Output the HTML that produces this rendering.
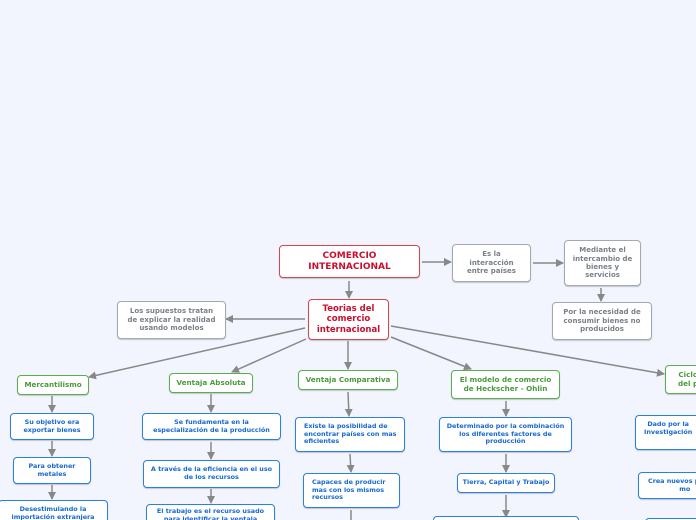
<!DOCTYPE html>
<html><head><meta charset="utf-8"><style>
html,body{margin:0;padding:0;width:696px;height:520px;overflow:hidden}
body{background:#f2f5fe;font-family:"DejaVu Sans","Liberation Sans",sans-serif;font-weight:bold}
#w{position:relative;width:696px;height:520px;overflow:hidden}
.b{position:absolute;box-sizing:border-box;background:#fff;border-radius:4px;display:flex;align-items:center;justify-content:center;text-align:center;line-height:1.2;box-shadow:0 1px 1px rgba(0,0,0,.2)}
.r{border:1.5px solid #d9454f;color:#c8102e;font-size:8.5px}
.g{border:1.5px solid #a4a9b0;color:#7b8089;font-size:7px}
.gr{border:1.5px solid #5aae4e;color:#4a9a3e;font-size:7.2px}
.bl{border:1.5px solid #2a7fe0;color:#1668cf;font-size:6.4px}
.l{text-align:left;justify-content:flex-start;padding-left:8px}
svg{position:absolute;left:0;top:0}
</style></head><body><div id="w">
<svg width="696" height="520"><defs><marker id="a" markerWidth="8" markerHeight="8" refX="7" refY="4" orient="auto" markerUnits="userSpaceOnUse"><path d="M0,0L8,4L0,8z" fill="#888"/></marker></defs>
<g stroke="#888" stroke-width="1.5" fill="none" marker-end="url(#a)">
<line x1="422" y1="262" x2="451" y2="262"/>
<line x1="533" y1="263" x2="563" y2="263"/>
<line x1="601" y1="288" x2="601" y2="301"/>
<line x1="349" y1="281" x2="349" y2="298"/>
<line x1="305" y1="319" x2="226" y2="319"/>
<line x1="305" y1="328" x2="89" y2="377"/>
<line x1="306" y1="339" x2="232" y2="372"/>
<line x1="348" y1="341" x2="348" y2="369"/>
<line x1="391" y1="337" x2="471" y2="369"/>
<line x1="391" y1="326" x2="664" y2="374"/>
<line x1="52" y1="396" x2="52" y2="412"/>
<line x1="52" y1="441" x2="52" y2="456"/>
<line x1="52" y1="485" x2="52" y2="499"/>
<line x1="211" y1="394" x2="211" y2="412"/>
<line x1="211" y1="442" x2="211" y2="459"/>
<line x1="211" y1="489" x2="211" y2="503"/>
<line x1="348" y1="392" x2="349" y2="416"/>
<line x1="350" y1="454" x2="351" y2="472"/>
<line x1="351" y1="510" x2="351" y2="530"/>
<line x1="506" y1="401" x2="506" y2="416"/>
<line x1="506" y1="454" x2="506" y2="472"/>
<line x1="506" y1="495" x2="506" y2="517"/>
</g></svg>
<div class="b r" style="left:279px;top:245px;width:141px;height:33px;font-size:9px">COMERCIO<br>INTERNACIONAL</div>
<div class="b g" style="left:452px;top:244px;width:79px;height:38px">Es la<br>interacción<br>entre países</div>
<div class="b g" style="left:564px;top:240px;width:77px;height:46px">Mediante el<br>intercambio de<br>bienes y<br>servicios</div>
<div class="b g" style="left:552px;top:302px;width:100px;height:38px">Por la necesidad de<br>consumir bienes no<br>producidos</div>
<div class="b r" style="left:308px;top:299px;width:81px;height:41px">Teorias del<br>comercio<br>internacional</div>
<div class="b g" style="left:117px;top:301px;width:109px;height:38px">Los supuestos tratan<br>de explicar la realidad<br>usando modelos</div>
<div class="b gr" style="left:17px;top:375px;width:72px;height:20px">Mercantilismo</div>
<div class="b gr" style="left:169px;top:373px;width:84px;height:20px">Ventaja Absoluta</div>
<div class="b gr" style="left:298px;top:370px;width:100px;height:20px">Ventaja Comparativa</div>
<div class="b gr" style="left:451px;top:370px;width:109px;height:29px">El modelo de comercio<br>de Heckscher - Ohlin</div>
<div class="b gr" style="left:665px;top:365px;width:50px;height:29px;justify-content:flex-start;padding-left:12px">Ciclo<br>del p</div>
<div class="b bl" style="left:10px;top:413px;width:84px;height:27px">Su objetivo era<br>exportar bienes</div>
<div class="b bl" style="left:13px;top:457px;width:78px;height:27px">Para obtener<br>metales</div>
<div class="b bl" style="left:-2px;top:500px;width:110px;height:30px;align-items:flex-start;padding-top:5px">Desestimulando la<br>importación extranjera</div>
<div class="b bl" style="left:142px;top:413px;width:139px;height:27px">Se fundamenta en la<br>especialización de la producción</div>
<div class="b bl" style="left:143px;top:460px;width:137px;height:28px">A través de la eficiencia en el uso<br>de los recursos</div>
<div class="b bl" style="left:146px;top:504px;width:129px;height:30px;align-items:flex-start;padding-top:3px">El trabajo es el recurso usado<br>para identificar la ventaja</div>
<div class="b bl l" style="left:295px;top:417px;width:110px;height:35px">Existe la posibilidad de<br>encontrar países con mas<br>eficientes</div>
<div class="b bl l" style="left:303px;top:473px;width:97px;height:35px">Capaces de producir<br>mas con los mismos<br>recursos</div>
<div class="b bl" style="left:439px;top:417px;width:133px;height:35px">Determinado por la combinación<br>los diferentes factores de<br>producción</div>
<div class="b bl" style="left:457px;top:473px;width:98px;height:20px">Tierra, Capital y Trabajo</div>
<div class="b bl" style="left:433px;top:516px;width:146px;height:20px"></div>
<div class="b bl" style="left:635px;top:415px;width:80px;height:35px;justify-content:flex-start;padding-left:8px">Dado por la<br>Investigación<br>&nbsp;</div>
<div class="b bl" style="left:638px;top:472px;width:80px;height:27px;justify-content:flex-start;padding-left:9px">Crea nuevos p<br>&nbsp;&nbsp;&nbsp;&nbsp;&nbsp;&nbsp;&nbsp;&nbsp;&nbsp;&nbsp;mo</div>
<div class="b bl" style="left:645px;top:518px;width:80px;height:20px"></div>
</div></body></html>
